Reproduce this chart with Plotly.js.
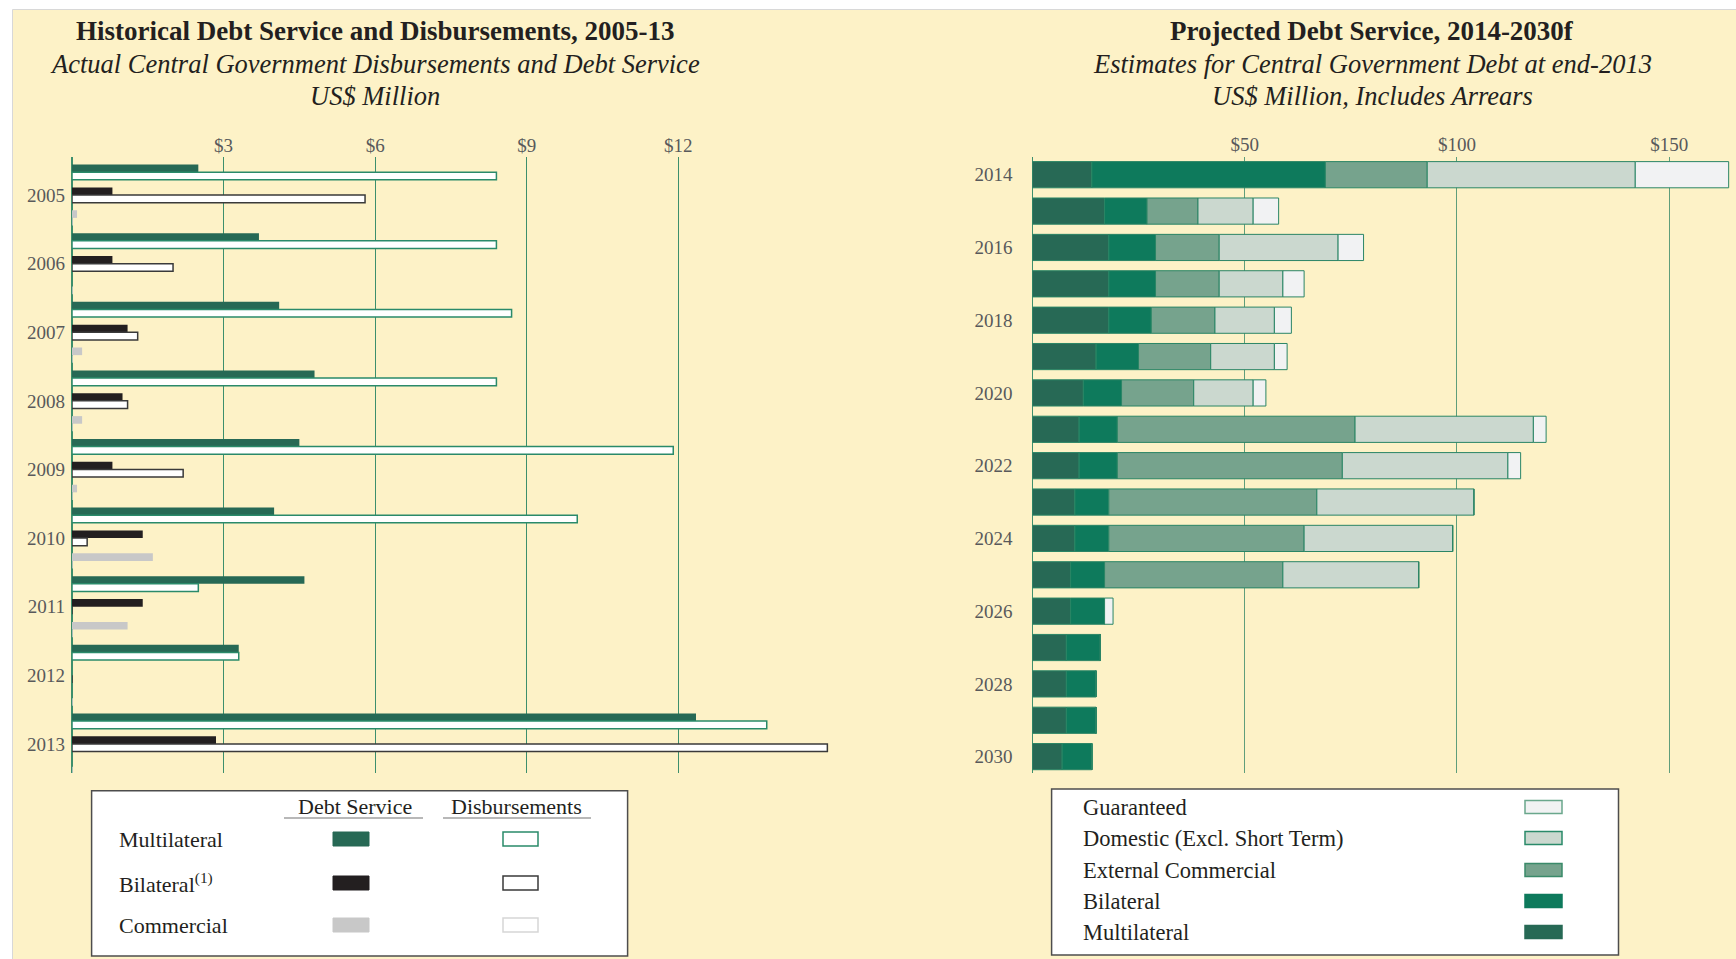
<!DOCTYPE html>
<html>
<head>
<meta charset="utf-8">
<script src="https://cdn.plot.ly/plotly-3.0.1.min.js"></script>
<style>html,body{margin:0;padding:0;background:#fff;}#chart{width:1736px;height:959px;}</style>
</head>
<body>
<div id="chart"></div>
<script>
// ---------- Left chart data (US$ million) ----------
const years = ['2005','2006','2007','2008','2009','2010','2011','2012','2013'];
const dsMultilateral   = [2.5, 3.7, 4.1, 4.8, 4.5, 4.0, 4.6, 3.3, 12.35];
const disbMultilateral = [8.4, 8.4, 8.7, 8.4, 11.9, 10.0, 2.5, 3.3, 13.75];
const dsBilateral      = [0.8, 0.8, 1.1, 1.0, 0.8, 1.4, 1.4, 0, 2.85];
const disbBilateral    = [5.8, 2.0, 1.3, 1.1, 2.2, 0.3, 0, 0, 14.95];
const dsCommercial     = [0.1, 0, 0.2, 0.2, 0.1, 1.6, 1.1, 0, 0];
const disbCommercial   = [0, 0, 0, 0, 0, 0, 0, 0, 0];
const leftTicks = [3, 6, 9, 12];

// ---------- Right chart data (US$ million) ----------
const projYears = ['2014','2015','2016','2017','2018','2019','2020','2021','2022',
                   '2023','2024','2025','2026','2027','2028','2029','2030'];
const multilateral  = [14, 17, 18, 18, 18, 15, 12, 11, 11, 10, 10, 9, 9, 8, 8, 8, 7];
const bilateral     = [55, 10, 11, 11, 10, 10, 9, 9, 9, 8, 8, 8, 8, 8, 7, 7, 7];
const extCommercial = [24, 12, 15, 15, 15, 17, 17, 56, 53, 49, 46, 42, 0, 0, 0, 0, 0];
const domestic      = [49, 13, 28, 15, 14, 15, 14, 42, 39, 37, 35, 32, 0, 0, 0, 0, 0];
const guaranteed    = [22, 6, 6, 5, 4, 3, 3, 3, 3, 0, 0, 0, 2, 0, 0, 0, 0];
const rightTicks = [50, 100, 150];
const projTickYears = ['2014','2016','2018','2020','2022','2024','2026','2028','2030'];

// ---------- geometry helpers ----------
const W = 1736, H = 959;
const px = x => x / W;
const py = y => 1 - y / H;
const FONT = 'Liberation Serif, Times New Roman, serif';
const TXT = '#231f20';
const TICK = '#58595b';

// left chart bar slots
const slotW = 1 / 9;
const slot = k => -4 / 9 + k / 9;
function leftBar(vals, k, fill, lineColor, lineWidth, name) {
  return {type: 'bar', orientation: 'h', name: name, x: vals, y: years,
    xaxis: 'x', yaxis: 'y', width: slotW, offset: slot(k),
    marker: {color: fill, line: {color: lineColor, width: lineWidth}},
    showlegend: false, hoverinfo: 'x+name'};
}
const traces = [
  leftBar(dsMultilateral, 0, '#276955', '#276955', 0, 'Debt Service Multilateral'),
  leftBar(disbMultilateral, 1, '#ffffff', '#2a8a6a', 1.5, 'Disbursements Multilateral'),
  leftBar(dsBilateral, 3, '#231f20', '#231f20', 0, 'Debt Service Bilateral'),
  leftBar(disbBilateral, 4, '#ffffff', '#3a3a3a', 1.5, 'Disbursements Bilateral'),
  leftBar(dsCommercial, 6, '#c8c8c8', '#c8c8c8', 0, 'Debt Service Commercial'),
  leftBar(disbCommercial, 7, '#ffffff', '#d0d0d0', 1.5, 'Disbursements Commercial')
];

// right chart stacked (overlay mode with cumulative base)
const rightSeries = [
  {name: 'Multilateral', vals: multilateral, color: '#276955'},
  {name: 'Bilateral', vals: bilateral, color: '#0e7a5c'},
  {name: 'External Commercial', vals: extCommercial, color: '#76a38d'},
  {name: 'Domestic (Excl. Short Term)', vals: domestic, color: '#cbd8cf'},
  {name: 'Guaranteed', vals: guaranteed, color: '#f1f2f3'}
];
let cum = projYears.map(() => 0);
rightSeries.forEach(s => {
  traces.push({type: 'bar', orientation: 'h', name: s.name, x: s.vals, y: projYears,
    base: cum.slice(), xaxis: 'x2', yaxis: 'y2', width: 0.72,
    marker: {color: s.color, line: {color: '#2a8565', width: 1}},
    showlegend: false, hoverinfo: 'x+name'});
  cum = cum.map((c, i) => c + s.vals[i]);
});

// ---------- annotations ----------
const ann = [];
function txt(text, x, y, size, opts) {
  ann.push(Object.assign({text: text, x: px(x), y: py(y), xref: 'paper', yref: 'paper',
    showarrow: false, xanchor: 'center', yanchor: 'middle',
    font: {family: FONT, size: size, color: TXT}}, opts || {}));
}
txt('<b>Historical Debt Service and Disbursements, 2005-13</b>', 375, 31, 27);
txt('<i>Actual Central Government Disbursements and Debt Service</i>', 375, 64, 26.5);
txt('<i>US$ Million</i>', 375, 96, 26.5);
txt('<b>Projected Debt Service, 2014-2030f</b>', 1372, 31, 27);
txt('<i>Estimates for Central Government Debt at end-2013</i>', 1372, 64, 26.5);
txt('<i>US$ Million, Includes Arrears</i>', 1372, 96, 26.5);

// ---------- shapes ----------
const shapes = [];
function rect(x0, y0, x1, y1, fill, line, lw, layer) {
  shapes.push({type: 'rect', xref: 'paper', yref: 'paper', x0: px(x0), x1: px(x1),
    y0: py(y1), y1: py(y0), fillcolor: fill, line: {color: line, width: lw},
    layer: layer || 'above'});
}
function hline(x0, x1, y, color, lw) {
  shapes.push({type: 'line', xref: 'paper', yref: 'paper', x0: px(x0), x1: px(x1),
    y0: py(y), y1: py(y), line: {color: color, width: lw}});
}
// cream panel
rect(12.5, 9.5, 1740, 965, '#fdf2c7', '#d8d8d8', 1, 'below');

// left legend
rect(91.6, 790.7, 627.6, 956, '#ffffff', '#4d4d4d', 1.5);
txt('Debt Service', 355, 806, 22);
txt('Disbursements', 516, 806, 22);
hline(284, 423, 818, '#a0a0a0', 1.5);
hline(443, 591, 818, '#a0a0a0', 1.5);
const leftLegendRows = [
  {label: 'Multilateral', y: 839, ds: ['#276955', '#276955'], db: ['#ffffff', '#2a8a6a']},
  {label: 'Bilateral<sup>(1)</sup>', y: 883, ds: ['#231f20', '#231f20'], db: ['#ffffff', '#3a3a3a']},
  {label: 'Commercial', y: 925, ds: ['#c8c8c8', '#c8c8c8'], db: ['#ffffff', '#d6d6d6']}
];
leftLegendRows.forEach(r => {
  txt(r.label, 117, r.y, 22, {xanchor: 'left'});
  rect(333, r.y - 7, 369, r.y + 7, r.ds[0], r.ds[1], 1);
  rect(503, r.y - 7, 538, r.y + 7, r.db[0], r.db[1], 1.5);
});

// right legend
rect(1051.6, 789, 1618.5, 955, '#ffffff', '#4d4d4d', 1.5);
const rightLegendRows = [
  {label: 'Guaranteed', y: 807, fill: '#f1f2f3', line: '#6aa78c'},
  {label: 'Domestic (Excl. Short Term)', y: 838, fill: '#cbd8cf', line: '#2a8a6a'},
  {label: 'External Commercial', y: 870, fill: '#76a38d', line: '#3a8a6a'},
  {label: 'Bilateral', y: 901, fill: '#0e7a5c', line: '#0e7a5c'},
  {label: 'Multilateral', y: 932, fill: '#276955', line: '#276955'}
];
rightLegendRows.forEach(r => {
  txt(r.label, 1081, r.y, 22.5, {xanchor: 'left'});
  rect(1525, r.y - 6.5, 1562, r.y + 6.5, r.fill, r.line, 1.5);
});

const tickFont = {family: FONT, size: 19, color: TICK};
const layout = {
  width: W, height: H,
  margin: {l: 0, r: 0, t: 0, b: 0, pad: 0},
  paper_bgcolor: '#ffffff', plot_bgcolor: 'rgba(0,0,0,0)',
  barmode: 'overlay',
  showlegend: false,
  xaxis: {domain: [px(72), px(840)], range: [0, 15.2], side: 'top',
    tickvals: leftTicks, ticktext: leftTicks.map(v => '$' + v), tickfont: tickFont,
    showgrid: true, gridcolor: '#3d8f6c', gridwidth: 1,
    zeroline: true, zerolinecolor: '#3d8f6c', zerolinewidth: 1.2,
    ticks: '', ticklabelstandoff: 0, anchor: 'y', fixedrange: true},
  yaxis: {domain: [py(773), py(157)], type: 'category', range: [8.423, -0.554],
    tickfont: tickFont, ticks: '', ticklabelstandoff: 6, showgrid: false,
    zeroline: false, showline: false, anchor: 'x', fixedrange: true},
  xaxis2: {domain: [px(1032.4), px(1731)], range: [0, 164.55], side: 'top',
    tickvals: rightTicks, ticktext: rightTicks.map(v => '$' + v), tickfont: tickFont,
    showgrid: true, gridcolor: '#5f9e7b', gridwidth: 1,
    zeroline: true, zerolinecolor: '#3d8f6c', zerolinewidth: 1.2,
    ticks: '', ticklabelstandoff: 1, anchor: 'y2', fixedrange: true},
  yaxis2: {domain: [py(773), py(157)], type: 'category', range: [16.45, -0.487],
    tickvals: projTickYears, tickfont: tickFont, ticks: '', ticklabelstandoff: 19,
    showgrid: false, zeroline: false, showline: false, anchor: 'x2', fixedrange: true},
  annotations: ann,
  shapes: shapes
};
Plotly.newPlot('chart', traces, layout, {displayModeBar: false, staticPlot: true});
</script>
</body>
</html>
